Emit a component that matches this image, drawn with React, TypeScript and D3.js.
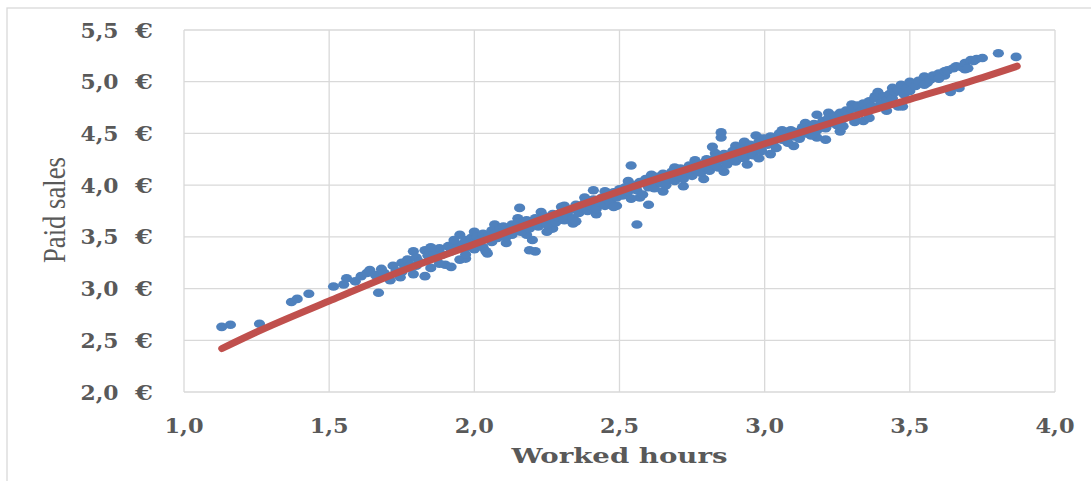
import * as d3 from 'd3';
import React, { useMemo } from 'react';

const WIDTH = 1091;
const HEIGHT = 481;

const xTicks = [1.0, 1.5, 2.0, 2.5, 3.0, 3.5, 4.0];
const yTicks = [2.0, 2.5, 3.0, 3.5, 4.0, 4.5, 5.0, 5.5];

// [worked hours, paid sales]
const earlySamples: [number, number][] = [
    [1.13, 2.63], [1.16, 2.65], [1.26, 2.66], [1.37, 2.87], [1.39, 2.9], [1.43, 2.95],
    [1.515, 3.02], [1.55, 3.04], [1.56, 3.1], [1.59, 3.07], [1.61, 3.12], [1.63, 3.15],
    [1.64, 3.18], [1.66, 3.13], [1.67, 2.96], [1.68, 3.19], [1.69, 3.15], [1.71, 3.08],
    [1.72, 3.22], [1.73, 3.17], [1.745, 3.11], [1.75, 3.25], [1.76, 3.2], [1.77, 3.28],
    [1.78, 3.23], [1.79, 3.14], [1.79, 3.36], [1.8, 3.3], [1.81, 3.26], [1.83, 3.12],
    [1.83, 3.37], [1.84, 3.32], [1.85, 3.2], [1.86, 3.35], [1.87, 3.29], [1.88, 3.39],
    [1.89, 3.33], [1.9, 3.23], [1.91, 3.41], [1.92, 3.21], [1.92, 3.36], [1.93, 3.44],
    [1.94, 3.39], [1.95, 3.28], [1.95, 3.52], [1.96, 3.43], [1.97, 3.29], [1.97, 3.47],
    [1.98, 3.4], [1.99, 3.49], [2.0, 3.55], [2.0, 3.44], [2.01, 3.5],
];

const midSamples: [number, number][] = [
    [2.02, 3.47], [2.03, 3.53], [2.04, 3.36], [2.045, 3.34], [2.05, 3.51], [2.06, 3.56],
    [2.06, 3.45], [2.07, 3.53], [2.08, 3.49], [2.09, 3.58], [2.1, 3.54], [2.1, 3.6],
    [2.11, 3.5], [2.12, 3.57], [2.13, 3.62], [2.13, 3.52], [2.14, 3.59], [2.15, 3.64],
    [2.156, 3.78], [2.16, 3.55], [2.17, 3.61], [2.18, 3.66], [2.19, 3.37], [2.19, 3.58],
    [2.2, 3.63], [2.2, 3.47], [2.21, 3.36], [2.21, 3.68], [2.22, 3.6], [2.23, 3.65],
    [2.24, 3.7], [2.25, 3.55], [2.25, 3.62], [2.26, 3.67], [2.27, 3.72], [2.28, 3.64],
    [2.29, 3.69], [2.3, 3.79], [2.3, 3.74], [2.31, 3.66], [2.32, 3.71], [2.33, 3.76],
    [2.34, 3.68], [2.35, 3.65], [2.35, 3.81], [2.36, 3.73], [2.37, 3.78], [2.38, 3.83],
    [2.39, 3.75], [2.4, 3.8], [2.41, 3.95], [2.41, 3.86], [2.42, 3.77], [2.43, 3.83],
    [2.44, 3.88], [2.45, 3.8], [2.46, 3.86], [2.46, 3.91], [2.47, 3.83], [2.48, 3.79],
    [2.48, 3.93], [2.49, 3.88], [2.5, 3.96], [2.51, 3.9], [2.52, 3.98], [2.53, 3.94],
    [2.54, 4.19], [2.54, 3.87], [2.55, 4.0], [2.56, 3.62], [2.56, 3.95], [2.57, 4.03],
    [2.58, 3.91], [2.59, 4.06], [2.6, 3.81], [2.6, 3.98], [2.61, 4.04], [2.62, 3.97],
    [2.63, 4.08], [2.64, 4.02], [2.65, 4.11], [2.66, 4.0], [2.67, 4.06], [2.68, 4.13],
    [2.69, 4.04], [2.7, 4.1], [2.71, 4.16], [2.72, 4.06], [2.73, 4.12], [2.74, 4.19],
    [2.75, 4.09], [2.76, 4.15], [2.77, 4.21], [2.78, 4.12], [2.79, 4.18], [2.8, 4.25],
    [2.81, 4.14], [2.82, 4.37], [2.82, 4.21], [2.83, 4.27], [2.84, 4.17], [2.85, 4.51],
    [2.85, 4.46], [2.85, 4.24], [2.86, 4.3], [2.87, 4.2], [2.88, 4.27], [2.89, 4.33],
    [2.9, 4.23], [2.91, 4.3], [2.92, 4.36], [2.93, 4.26], [2.93, 4.42], [2.94, 4.33],
    [2.95, 4.39], [2.96, 4.29], [2.97, 4.48], [2.97, 4.36], [2.98, 4.26], [2.98, 4.42],
    [2.99, 4.33], [3.0, 4.45],
];

const lateSamples: [number, number][] = [
    [3.01, 4.39], [3.02, 4.47], [3.03, 4.42], [3.04, 4.36], [3.05, 4.5], [3.06, 4.44],
    [3.07, 4.48], [3.08, 4.41], [3.09, 4.53], [3.1, 4.47], [3.11, 4.51], [3.12, 4.45],
    [3.13, 4.56], [3.14, 4.5], [3.15, 4.54], [3.16, 4.48], [3.17, 4.59], [3.18, 4.68],
    [3.18, 4.53], [3.19, 4.57], [3.2, 4.62], [3.21, 4.44], [3.21, 4.55], [3.22, 4.65],
    [3.23, 4.6], [3.24, 4.67], [3.25, 4.58], [3.26, 4.7], [3.27, 4.57], [3.27, 4.64],
    [3.28, 4.72], [3.29, 4.68], [3.3, 4.74], [3.31, 4.66], [3.31, 4.61], [3.32, 4.77],
    [3.33, 4.71], [3.34, 4.79], [3.35, 4.73], [3.36, 4.65], [3.36, 4.81], [3.37, 4.76],
    [3.38, 4.84], [3.39, 4.9], [3.4, 4.79], [3.41, 4.86], [3.42, 4.82], [3.43, 4.88],
    [3.44, 4.84], [3.45, 4.9], [3.46, 4.92], [3.46, 4.76], [3.475, 4.76], [3.47, 4.97],
    [3.48, 4.88], [3.49, 4.94], [3.5, 5.0], [3.5, 4.91], [3.52, 4.96], [3.53, 5.01],
    [3.55, 5.05], [3.55, 4.97], [3.57, 5.02], [3.58, 5.06], [3.6, 5.08], [3.6, 5.03],
    [3.62, 5.1], [3.63, 5.11], [3.64, 4.9], [3.65, 5.13], [3.66, 5.15], [3.67, 4.94],
    [3.68, 5.14], [3.69, 5.18], [3.7, 5.13], [3.71, 5.21], [3.72, 5.2], [3.73, 5.22],
    [3.75, 5.23], [3.805, 5.275], [3.866, 5.24],
];

// points sitting on the upper and lower edge of the dense band
const edgeSamples: [number, number][] = [
    [1.75, 3.16], [1.8, 3.22], [1.85, 3.4], [1.88, 3.24], [1.93, 3.47], [1.97, 3.33],
    [2.0, 3.38], [2.03, 3.4], [2.07, 3.62], [2.11, 3.44], [2.15, 3.68], [2.18, 3.52],
    [2.23, 3.74], [2.27, 3.58], [2.31, 3.8], [2.34, 3.63], [2.38, 3.88], [2.42, 3.72],
    [2.45, 3.94], [2.49, 3.8], [2.53, 4.04], [2.57, 3.88], [2.61, 4.1], [2.65, 3.94],
    [2.69, 4.17], [2.72, 3.99], [2.76, 4.24], [2.79, 4.06], [2.83, 4.31], [2.86, 4.13],
    [2.9, 4.38], [2.94, 4.2], [2.99, 4.45], [3.02, 4.3], [3.06, 4.53], [3.1, 4.38],
    [3.14, 4.6], [3.18, 4.46], [3.22, 4.7], [3.26, 4.52], [3.3, 4.78], [3.34, 4.62],
    [3.38, 4.86], [3.42, 4.72], [3.44, 4.94], [3.56, 4.99], [3.62, 5.06], [3.69, 5.12],
];

// trend line as it sits on the picture
const trendHours = [1.13, 1.25, 1.5, 1.75, 2.0, 2.25, 2.5, 2.75, 3.0, 3.25, 3.5, 3.75, 3.87];
const trendSales = [2.42, 2.58, 2.88, 3.17, 3.43, 3.69, 3.94, 4.17, 4.4, 4.62, 4.83, 5.04, 5.15];

const GRID = '#d9d9d9';
const TEXT = '#595959';
const BLUE = '#4f81bd';
const RED = '#c0504d';

const fmt = (v: number) => v.toFixed(1).replace('.', ',');

export default function App() {
    const margin = { left: 184, right: 1055, top: 30, bottom: 392 };

    const x = useMemo(
        () => d3.scaleLinear().domain([1, 4]).range([margin.left, margin.right]),
        []
    );
    const y = useMemo(
        () => d3.scaleLinear().domain([2, 5.5]).range([margin.bottom, margin.top]),
        []
    );

    const samples = [...earlySamples, ...edgeSamples, ...midSamples, ...lateSamples];

    const trendPath = useMemo(() => {
        const line = d3
            .line<number>()
            .x((d) => x(d))
            .y((_, i) => y(trendSales[i]))
            .curve(d3.curveMonotoneX);
        return line(trendHours) ?? '';
    }, [x, y]);

    return (
        <svg
            width={WIDTH}
            height={HEIGHT}
            style={{ position: 'absolute', left: 0, top: 0, display: 'block', background: '#fff' }}
        >
            <rect x={7} y={8} width={1120} height={520} fill="none" stroke={GRID} strokeWidth={1.3} />

            {/* grid */}
            {yTicks.map((t) => (
                <line key={`h${t}`} x1={margin.left} x2={margin.right} y1={y(t)} y2={y(t)} stroke={GRID} strokeWidth={1.3} />
            ))}
            {xTicks.map((t) => (
                <line key={`v${t}`} x1={x(t)} x2={x(t)} y1={margin.top} y2={margin.bottom} stroke={GRID} strokeWidth={1.3} />
            ))}

            {/* y tick labels */}
            {yTicks.map((t) => (
                <g key={`yl${t}`} fill={TEXT} fontFamily="'DejaVu Serif', serif" fontWeight={700} fontSize={21}>
                    <text x={118.5} y={y(t) + 7.5} textAnchor="end" textLength={38} lengthAdjust="spacingAndGlyphs">{fmt(t)}</text>
                    <text x={153} y={y(t) + 7.5} textAnchor="end" textLength={18} lengthAdjust="spacingAndGlyphs">€</text>
                </g>
            ))}

            {/* x tick labels */}
            {xTicks.map((t) => (
                <text
                    key={`xl${t}`}
                    x={x(t)}
                    y={433}
                    textAnchor="middle"
                    fill={TEXT}
                    fontFamily="'DejaVu Serif', serif"
                    fontWeight={700}
                    fontSize={21}
                    textLength={39}
                    lengthAdjust="spacingAndGlyphs"
                >
                    {fmt(t)}
                </text>
            ))}

            <text
                x={(margin.left + margin.right) / 2}
                y={463}
                textAnchor="middle"
                fill={TEXT}
                fontFamily="'DejaVu Serif', serif"
                fontWeight={700}
                fontSize={21}
                textLength={216}
                lengthAdjust="spacingAndGlyphs"
            >
                Worked hours
            </text>

            <text
                transform="translate(65,210) rotate(-90)"
                textAnchor="middle"
                fill={TEXT}
                fontFamily="'Liberation Serif', serif"
                fontSize={31}
                textLength={106}
                lengthAdjust="spacingAndGlyphs"
            >
                Paid sales
            </text>

            {/* scatter */}
            {samples.map(([h, s], i) => (
                <ellipse key={i} cx={x(h)} cy={y(s)} rx={5.6} ry={4.3} fill={BLUE} />
            ))}

            {/* trend */}
            <path d={trendPath} fill="none" stroke={RED} strokeWidth={7} strokeLinecap="round" />
        </svg>
    );
}
